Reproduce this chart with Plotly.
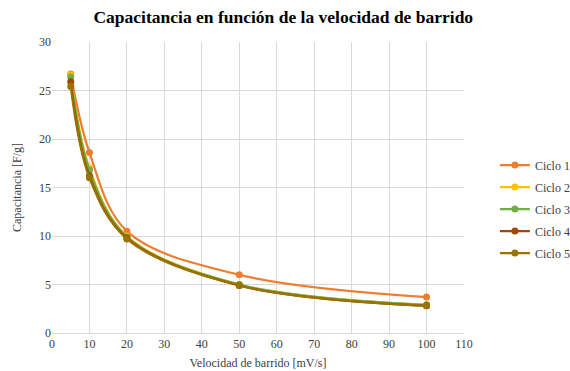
import plotly.graph_objects as go

velocidad = [5, 10, 20, 50, 100]
ciclo1 = [26.7, 18.6, 10.5, 6.0, 3.7]
ciclo2 = [26.6, 17.0, 10.0, 5.0, 2.9]
ciclo3 = [26.4, 16.8, 9.9, 5.0, 2.9]
ciclo4 = [25.9, 16.2, 9.8, 4.9, 2.8]
ciclo5 = [25.4, 16.0, 9.7, 4.9, 2.8]
nombres = ["Ciclo 1", "Ciclo 2", "Ciclo 3", "Ciclo 4", "Ciclo 5"]
colores = ["#ED7D31", "#FFC000", "#70AD47", "#9E480E", "#997300"]
series = [ciclo1, ciclo2, ciclo3, ciclo4, ciclo5]

fig = go.Figure()
for n, c, s in zip(nombres, colores, series):
    fig.add_trace(go.Scatter(x=velocidad, y=s, name=n, legendgroup=n, mode="lines+markers",
                             line=dict(color=c, width=2.2, shape="spline", smoothing=1.0),
                             marker=dict(color=c, size=7)))

font = "Liberation Serif, Times New Roman, serif"
fig.update_layout(
    width=570, height=371,
    margin=dict(l=52, r=106, t=42, b=38, autoexpand=False),
    paper_bgcolor="white", plot_bgcolor="white",
    font=dict(family=font, size=12, color="#404040"),
    title=dict(text="<b>Capacitancia en función de la velocidad de barrido</b>",
               x=0.497, xanchor="center", y=0.955, yanchor="middle",
               font=dict(family=font, size=17.5, color="black")),
    xaxis=dict(range=[0, 110], dtick=10, showgrid=True, gridcolor="#D9D9D9",
               showline=True, linecolor="#D9D9D9", zeroline=False, ticks="",
               automargin=False,
               title=dict(text="Velocidad de barrido [mV/s]", standoff=8,
                          font=dict(family=font, size=12, color="#404040"))),
    yaxis=dict(range=[0, 30], dtick=5, showgrid=True, gridcolor="#D9D9D9",
               showline=False, zeroline=False, ticks="", automargin=False,
               title=dict(text="Capacitancia [F/g]", standoff=14,
                          font=dict(family=font, size=12, color="#404040"))),
    legend=dict(x=1.075, xanchor="left", y=0.426, yanchor="middle",
                font=dict(family=font, size=12, color="#404040"),
                tracegroupgap=3, itemwidth=30),
)
fig.write_html("out.html")
